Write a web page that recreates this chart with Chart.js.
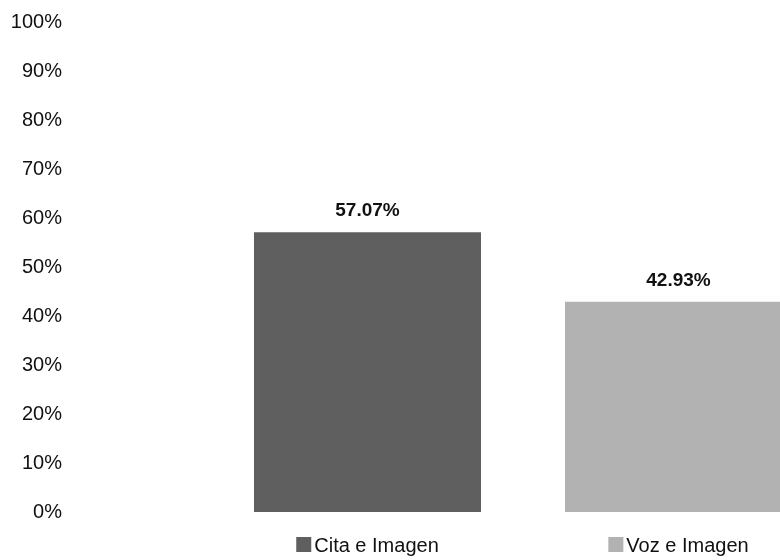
<!DOCTYPE html>
<html>
<head>
<meta charset="utf-8">
<script src="https://cdn.jsdelivr.net/npm/chart.js@4"></script>
<style>
  html, body { margin: 0; padding: 0; background: #fff; overflow: hidden; }
  #wrap { width: 860px; height: 560px; }
</style>
</head>
<body>
<div id="wrap"><canvas id="chart" width="860" height="560"></canvas></div>
<script>
const categories = ["Cita e Imagen", "Voz e Imagen"];
const values = [57.07, 42.93];
const barColors = ["#5f5f5f", "#b2b2b2"];
const yTicks = [0, 10, 20, 30, 40, 50, 60, 70, 80, 90, 100];

const FONT = "'Liberation Sans Narrow', 'Arial Narrow', 'Liberation Sans', Arial, sans-serif";

// value labels above bars + category labels with colour squares under them
const labelsPlugin = {
  id: "labelsPlugin",
  afterDatasetsDraw(chart) {
    const ctx = chart.ctx;
    const meta = chart.getDatasetMeta(0);
    const xScale = chart.scales.x;
    ctx.save();
    ctx.fillStyle = "#111";
    ctx.textAlign = "center";
    ctx.textBaseline = "alphabetic";
    ctx.font = "bold 19px " + FONT;
    meta.data.forEach((bar, i) => {
      ctx.fillText(values[i].toFixed(2) + "%", bar.x, bar.y - 16);
    });

    ctx.font = "20px " + FONT;
    ctx.textBaseline = "middle";
    ctx.textAlign = "left";
    const yMid = chart.chartArea.bottom + 33;
    categories.forEach((c, i) => {
      const cx = xScale.getPixelForValue(i);
      const tw = ctx.measureText(c).width;
      const sq = 15, gap = 3;
      const total = sq + gap + tw;
      const x0 = cx - total / 2;
      ctx.fillStyle = barColors[i];
      ctx.fillRect(x0, yMid - 8, sq, sq);
      ctx.fillStyle = "#111";
      ctx.fillText(c, x0 + sq + gap, yMid + 1);
    });
    ctx.restore();
  }
};

new Chart(document.getElementById("chart"), {
  type: "bar",
  data: {
    labels: categories,
    datasets: [{
      data: values,
      backgroundColor: barColors,
      borderWidth: 0,
      barPercentage: 0.73,
      categoryPercentage: 1
    }]
  },
  options: {
    responsive: false,
    animation: false,
    layout: { padding: { top: 22, bottom: 40, right: 26, left: 0 } },
    plugins: { legend: { display: false }, tooltip: { enabled: false } },
    scales: {
      x: {
        grid: { display: false },
        border: { display: false },
        ticks: { display: false }
      },
      y: {
        min: 0,
        max: 100,
        grid: { display: false, drawTicks: false },
        border: { display: false },
        afterFit(scale) {
          scale.width = 212;
          scale.paddingTop = 0;
          scale.paddingBottom = 0;
        },
        afterBuildTicks(scale) { scale.ticks = yTicks.map(v => ({ value: v })); },
        ticks: {
          padding: 150,
          color: "#111",
          font: { family: FONT, size: 20 },
          callback: v => v + "%"
        }
      }
    }
  },
  plugins: [labelsPlugin]
});
</script>
</body>
</html>
